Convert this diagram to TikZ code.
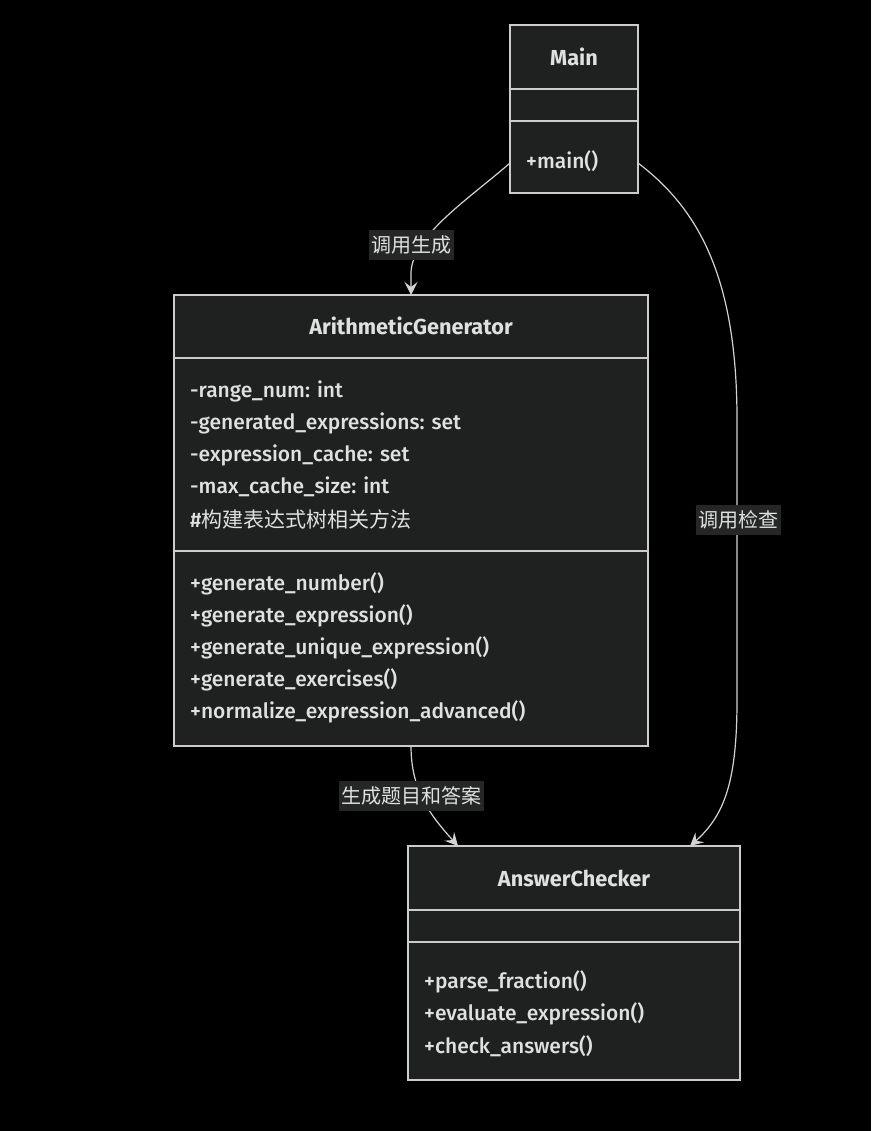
\documentclass[tikz,border=0pt]{standalone}
\usepackage{fontspec}
\setmainfont{Fira Sans}[UprightFont={* Medium}, BoldFont={* Bold}]
\newfontfamily\cjk{Noto Sans CJK SC}
\usetikzlibrary{arrows.meta}
\definecolor{boxfill}{HTML}{1F2020}
\definecolor{boxline}{HTML}{CCCCCC}
\definecolor{txt}{HTML}{E0E0E0}
\definecolor{lblfill}{HTML}{252626}
\definecolor{edgecol}{HTML}{D3D3D3}
\tikzset{
  classbox/.style={draw=boxline, fill=boxfill, line width=1.2pt, inner sep=0pt},
  divider/.style={draw=boxline, line width=1.2pt},
  member/.style={anchor=west, text=txt, inner sep=0pt, font=\fontsize{21}{25}\selectfont},
  title/.style={text=txt, inner sep=0pt, font=\fontsize{21.7}{25}\selectfont\bfseries},
  elabel/.style={fill=lblfill, text=txt, inner xsep=2.5pt, inner ysep=0pt, minimum height=30pt, font=\cjk\fontsize{20}{24}\selectfont},
  edge/.style={draw=edgecol, line width=1.2pt, -{Stealth[length=13pt,width=13pt,inset=5pt]}}
}
\begin{document}
\begin{tikzpicture}[x=1pt,y=-1pt]
\fill[black] (0,0) rectangle (871,1131);
\useasboundingbox (0,0) rectangle (871,1131);

% Main
\node[classbox, minimum width=128pt, minimum height=168pt] (main) at (574,109) {};
\draw[divider] (510,89) -- (638,89);
\draw[divider] (510,121) -- (638,121);
\node[title] (mainT) at (574,57) {Main};
\node[member] (mainM1) at (526,161) {+main()};

% ArithmeticGenerator
\node[classbox, minimum width=474pt, minimum height=451pt] (gen) at (411,520.5) {};
\draw[divider] (174,358) -- (648,358);
\draw[divider] (174,551) -- (648,551);
\node[title] (genT) at (411,326) {ArithmeticGenerator};
\node[member] (genA1) at (190,391) {-range\_num: int};
\node[member] (genA2) at (190,423) {-generated\_expressions: set};
\node[member] (genA3) at (190,455) {-expression\_cache: set};
\node[member] (genA4) at (190,487) {-max\_cache\_size: int};
\node[member] (genA5) at (190,519) {\#{\cjk 构建表达式树相关方法}};
\node[member] (genM1) at (190,584) {+generate\_number()};
\node[member] (genM2) at (190,616) {+generate\_expression()};
\node[member] (genM3) at (190,648) {+generate\_unique\_expression()};
\node[member] (genM4) at (190,680) {+generate\_exercises()};
\node[member] (genM5) at (190,712) {+normalize\_expression\_advanced()};

% AnswerChecker
\node[classbox, minimum width=332pt, minimum height=234pt] (chk) at (574,963) {};
\draw[divider] (408,910) -- (740,910);
\draw[divider] (408,942) -- (740,942);
\node[title] (chkT) at (574,878) {AnswerChecker};
\node[member] (chkM1) at (424,982) {+parse\_fraction()};
\node[member] (chkM2) at (424,1014) {+evaluate\_expression()};
\node[member] (chkM3) at (424,1046) {+check\_answers()};

% connector endpoints
\coordinate (e1s) at (510,163);
\coordinate (e1t) at (411,295);
\coordinate (e2s) at (638,163);
\coordinate (e2t) at (690,846);
\coordinate (e3s) at (411,746);
\coordinate (e3t) at (458,846);

\draw[edge] (e1s) .. controls (470,198) and (413,235) .. (411,272) -- (e1t);
\draw[edge] (e2s) .. controls (700,210) and (737,280) .. (737,420) -- (737,700) .. controls (737,780) and (725,815) .. (e2t);
\draw[edge] (e3s) .. controls (411,790) and (430,815) .. (e3t);

\node[elabel] (l1) at (411,245) {调用生成};
\node[elabel] (l2) at (738,520) {调用检查};
\node[elabel] (l3) at (411,796) {生成题目和答案};
\end{tikzpicture}
\end{document}
